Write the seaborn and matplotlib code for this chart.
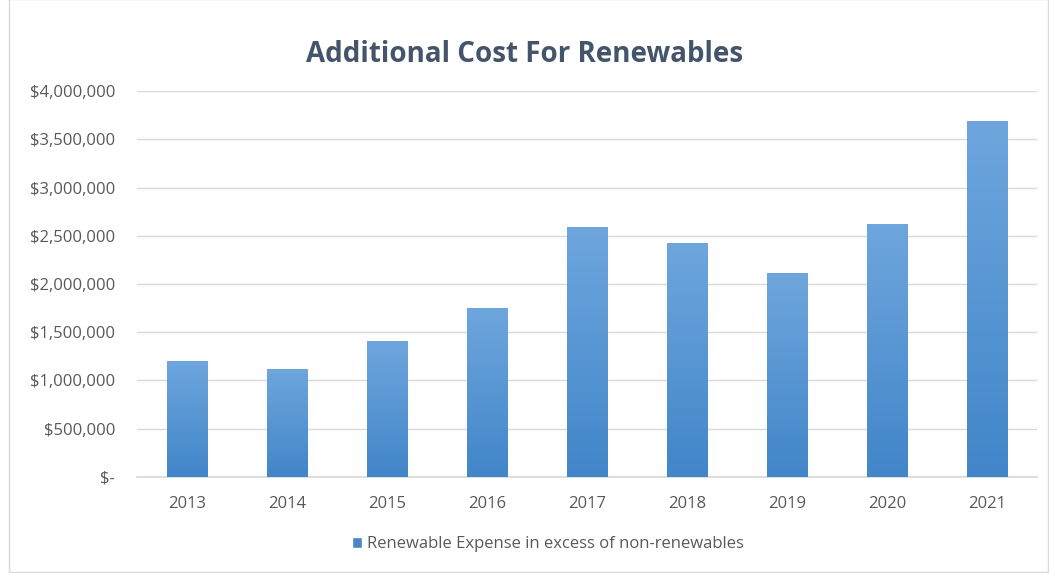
import numpy as np
import pandas as pd
import seaborn as sns
import matplotlib.pyplot as plt
from matplotlib.ticker import FuncFormatter, MultipleLocator
from matplotlib.colors import LinearSegmentedColormap
from matplotlib.patches import Patch

# Chart data
years = ['2013', '2014', '2015', '2016', '2017', '2018', '2019', '2020', '2021']
extra_cost = [1200000, 1120000, 1410000, 1750000, 2590000, 2420000, 2110000, 2620000, 3690000]
series_name = 'Renewable Expense in excess of non-renewables'

df = pd.DataFrame({'Year': years, 'Cost': extra_cost})

sns.set_theme(style='white')
plt.rcParams['font.family'] = ['Open Sans', 'DejaVu Sans']

fig = plt.figure(figsize=(10.49, 5.73), dpi=100)
ax = fig.add_axes([0.131, 0.168, 0.858, 0.673])

sns.barplot(data=df, x='Year', y='Cost', color='#5B9BD5', width=0.4, ax=ax, zorder=2)

# gradient fill on each bar (light at top, darker at bottom)
grad = LinearSegmentedColormap.from_list('g', ['#4186C9', '#6EA6DD'])
for p in ax.patches:
    x0, y0 = p.get_x(), p.get_y()
    w, h = p.get_width(), p.get_height()
    img = ax.imshow(np.linspace(0, 1, 256).reshape(-1, 1), cmap=grad, origin='lower',
                    extent=[x0, x0 + w, y0, y0 + h], aspect='auto', zorder=3)
    img.set_clip_path(p)
    p.set_alpha(0)

ax.set_xlim(-0.5, len(years) - 0.5)
ax.set_ylim(0, 4000000)
ax.yaxis.set_major_locator(MultipleLocator(500000))


def money(v, pos):
    if v == 0:
        return '$-'
    return '${:,.0f}'.format(v)


ax.yaxis.set_major_formatter(FuncFormatter(money))
ax.grid(axis='y', color='#D9D9D9', linewidth=1, zorder=0)
ax.set_axisbelow(True)
for s in ['top', 'right', 'left']:
    ax.spines[s].set_visible(False)
ax.spines['bottom'].set_color('#D9D9D9')
ax.tick_params(axis='both', colors='#595959', labelsize=12, length=0)
ax.tick_params(axis='x', pad=14)
ax.tick_params(axis='y', pad=16)
ax.set_xlabel('')
ax.set_ylabel('')

fig.text(0.5, 0.892, 'Additional Cost For Renewables', ha='center', va='baseline',
         fontsize=20, fontweight='bold', color='#44546A')

fig.legend(handles=[Patch(facecolor='#4A86C5', label=series_name)], loc='center',
           bbox_to_anchor=(0.522, 0.05), frameon=False, fontsize=12,
           handlelength=0.6, handleheight=0.6, handletextpad=0.3, labelcolor='#595959')

# chart border
fig.add_artist(plt.Rectangle((0.009, 0.001), 0.99, 1.0, transform=fig.transFigure,
                             fill=False, edgecolor='#D9D9D9', linewidth=1))

fig.savefig('out.png', dpi=100)
